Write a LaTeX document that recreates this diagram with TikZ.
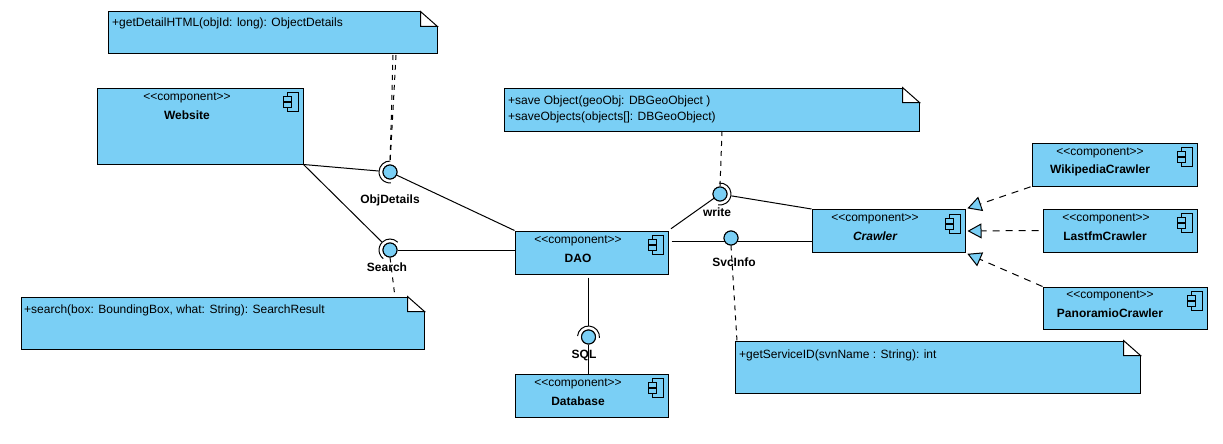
\documentclass[tikz,border=0pt]{standalone}
\usepackage{fontspec}
\setmainfont{Liberation Sans}
\usetikzlibrary{arrows.meta,positioning}
\definecolor{boxblue}{HTML}{7ACFF5}
\tikzset{
  compbox/.style={rectangle,draw,fill=boxblue,line width=1pt,inner sep=0pt},
  notebox/.style={rectangle,draw,fill=boxblue,line width=1pt,inner sep=0pt},
  stereo/.style={font=\fontsize{12}{14}\selectfont,inner sep=0pt},
  compname/.style={font=\fontsize{12}{14}\selectfont\bfseries,inner sep=0pt},
  notetext/.style={font=\fontsize{12}{16}\selectfont,inner sep=0pt,anchor=west,align=left},
  ball/.style={circle,draw,fill=boxblue,line width=1pt,minimum size=14pt,inner sep=0pt},
  ifacename/.style={font=\fontsize{12}{14}\selectfont\bfseries,inner sep=0pt},
  link/.style={line width=1pt},
  notelink/.style={line width=1pt,dashed,dash pattern=on 5pt off 5pt},
  realize/.style={line width=1pt,dash pattern=on 7pt off 6pt,-{Triangle[length=14pt,width=15pt,fill=boxblue,line width=1pt]}}
}
\newcommand{\compicon}[1]{%
  \draw[line width=1pt,shift={(#1.north east)}] (-16,5) rectangle (-5,24);
  \draw[line width=1pt,fill=boxblue,shift={(#1.north east)}] (-20,9) rectangle (-12,14);
  \draw[line width=1pt,fill=boxblue,shift={(#1.north east)}] (-20,15) rectangle (-12,20);
}
\newcommand{\notefold}[1]{%
  \fill[white,shift={(#1.north east)}] (-17,-1) rectangle (1,15);
  \draw[line width=1pt,shift={(#1.north east)}] (-17,0) -- (0,15) -- (-17,15) -- cycle;
}
\newcommand{\socketarc}[3]{%
  \draw[link] (#1.center) ++(#2:11pt) arc[start angle=#2,end angle=#3,radius=11pt];
}
\newcommand{\stereotext}{{<}{<}component{>}{>}}
\begin{document}
\begin{tikzpicture}[x=1pt,y=-1pt]
\useasboundingbox (0,0) rectangle (1223,444);

% Notes
\node[notebox,minimum width=329pt,minimum height=42pt] (detailnote) at (272.5,33) {};
\node[notetext] (detailtext) at (112,23) {+getDetailHTML(objId: long): ObjectDetails};
\node[notebox,minimum width=403pt,minimum height=52pt] (searchnote) at (222.5,323) {};
\node[notetext] (searchtext) at (24,310) {+search(box: BoundingBox, what: String): SearchResult};
\node[notebox,minimum width=415pt,minimum height=43pt] (savenote) at (711.5,109.5) {};
\node[notetext] (savetext) at (508,109) {+save Object(geoObj: DBGeoObject )\\+saveObjects(objects[]: DBGeoObject)};
\node[notebox,minimum width=405pt,minimum height=52pt] (svcnote) at (937.5,367) {};
\node[notetext] (svctext) at (739,355) {+getServiceID(svnName : String): int};

% Components
\node[compbox,minimum width=206pt,minimum height=76pt] (website) at (200,126) {};
\node[stereo] (websitest) at (187,98) {\stereotext};
\node[compname] (websitename) at (187,115) {Website};
\node[compbox,minimum width=153pt,minimum height=43pt] (dao) at (591.5,252.5) {};
\node[stereo] (daost) at (578,241) {\stereotext};
\node[compname] (daoname) at (578,258) {DAO};
\node[compbox,minimum width=153pt,minimum height=43pt] (database) at (591.5,395.5) {};
\node[stereo] (databasest) at (578,384) {\stereotext};
\node[compname] (databasename) at (578,401) {Database};
\node[compbox,minimum width=153pt,minimum height=43pt] (crawler) at (888.5,231) {};
\node[stereo] (crawlerst) at (875,219) {\stereotext};
\node[compname,font=\fontsize{12}{14}\selectfont\bfseries\itshape] (crawlername) at (875,236) {Crawler};
\node[compbox,minimum width=165pt,minimum height=43pt] (wikipedia) at (1114.5,164.5) {};
\node[stereo] (wikipediast) at (1100,153) {\stereotext};
\node[compname] (wikipedianame) at (1100,170) {WikipediaCrawler};
\node[compbox,minimum width=154pt,minimum height=43pt] (lastfm) at (1120,230.5) {};
\node[stereo] (lastfmst) at (1106,219) {\stereotext};
\node[compname] (lastfmname) at (1105,236) {LastfmCrawler};
\node[compbox,minimum width=164pt,minimum height=42pt] (panoramio) at (1125,308) {};
\node[stereo] (panoramiost) at (1110,296) {\stereotext};
\node[compname] (panoramioname) at (1110,313) {PanoramioCrawler};
\foreach \comp in {website,dao,database,crawler,wikipedia,lastfm,panoramio} {
  \compicon{\comp}
}
\foreach \note in {detailnote,searchnote,savenote,svcnote} {
  \notefold{\note}
}

% Interfaces
\coordinate (objdetailsfoot) at (390,172);
\node[ball] (objdetails) at (390,172) {};
\node[ball] (search) at (390,250) {};
\node[ball] (sql) at (588.5,337) {};
\node[ball] (write) at (720,194) {};
\node[ball] (svcinfo) at (731,238) {};
\coordinate (svcline) at (731,241);

% Note links
\coordinate (detailfoot1) at (393,55);
\coordinate (detailfoot2) at (396,55);
\coordinate (searchfoot) at (395,297);
\coordinate (savefoot) at (722,131);
\coordinate (svcfoot) at (737,341);
\draw[notelink] (detailfoot1) -- (objdetails.north);
\draw[notelink] (detailfoot2) -- (objdetails.north);
\draw[notelink] (search.south) -- (searchfoot);
\draw[notelink] (savefoot) -- (write.north);
\draw[notelink] (svcinfo.south) -- (svcfoot);

% Assembly lines
\draw[link,shorten >=4pt] (website.south east) -- (objdetails);
\draw[link,shorten >=4pt] (website.south east) -- (search);
\draw[link] (objdetails) -- (dao.north west);
\draw[link] (search.east) -- (search.east -| dao.west);
\draw[link,shorten <=3pt,shorten >=4pt] (dao.south -| sql) -- (sql);
\draw[link] (sql.south) -- (sql.south |- database.north);
\draw[link,shorten <=3pt] (dao.north east) -- (write);
\draw[link,shorten <=4pt] (write) -- (crawler.north west);
\draw[link,shorten <=3pt] (dao.east |- svcline) -- (crawler.west |- svcline);

% Balls and sockets on top of the lines
\node[ball] at (objdetails) {};
\node[ball] at (search) {};
\node[ball] at (sql) {};
\node[ball] at (write) {};
\node[ball] at (svcinfo) {};
\socketarc{objdetails}{88}{275}
\socketarc{search}{45}{232}
\socketarc{sql}{-5}{175}
\socketarc{write}{95}{-100}

% Realizations
\draw[realize,shorten <=1pt,shorten >=2pt] (wikipedia.south west) -- (crawler.north east);
\draw[realize,shorten <=4pt,shorten >=2pt] (lastfm.west) -- (crawler.east);
\draw[realize,shorten >=2pt] (panoramio.north west) -- (crawler.south east);

% Interface labels
\node[ifacename] (objlabel) at (390,200) {ObjDetails};
\node[ifacename] (searchlabel) at (387,267) {Search};
\node[ifacename] (sqllabel) at (584,355) {SQL};
\node[ifacename] (writelabel) at (717,212) {write};
\node[ifacename] (svclabel) at (734,262) {SvcInfo};
\end{tikzpicture}
\end{document}
